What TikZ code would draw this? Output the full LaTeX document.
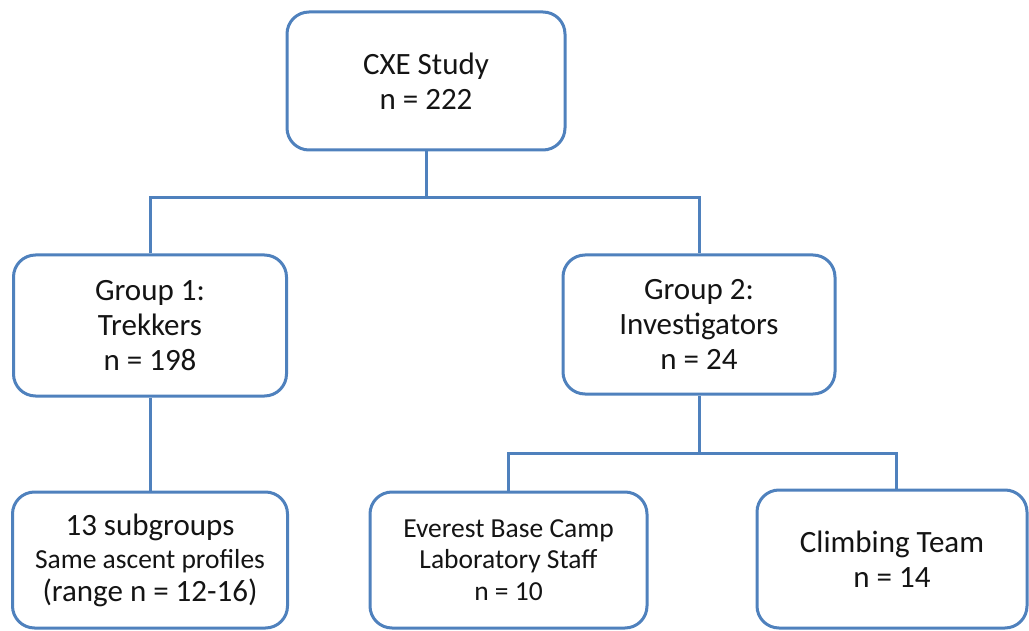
\documentclass[tikz,border=0pt]{standalone}
\usepackage{fontspec}
\setmainfont{Carlito}
\usepackage{tikz}
\usetikzlibrary{positioning, calc}
\definecolor{boxblue}{RGB}{79, 129, 189}
\definecolor{darktext}{RGB}{20, 20, 20}

\tikzset{
    studybox/.style={draw=boxblue, line width=3pt, rounded corners=22pt, fill=white,
                     align=center, text=darktext, inner sep=0pt,
                     font=\fontsize{31}{35}\selectfont},
    link/.style={draw=boxblue, line width=3pt}
}

\begin{document}
\begin{tikzpicture}[x=1pt, y=-1pt]
    \useasboundingbox (0,0) rectangle (1029,631);

    % top level
    \node[studybox, minimum width=278pt, minimum height=138pt] (cxe) at (426,81)
        {CXE Study\\n = 222};

    % the two groups
    \node[studybox, minimum width=273pt, minimum height=141pt] (grpone) at (150,325.5)
        {Group 1:\\Trekkers\\n = 198};
    \node[studybox, minimum width=272pt, minimum height=139pt] (grptwo) at (699,324.5)
        {Group 2:\\Investigators\\n = 24};

    % bottom row
    \node[studybox, minimum width=275pt, minimum height=136pt,
          font=\fontsize{31}{33}\selectfont] (subgrp) at (150,560)
        {13 subgroups\\{\fontsize{27.5}{33}\selectfont Same ascent profiles}\\(range n = 12-16)};
    \node[studybox, minimum width=277pt, minimum height=136pt,
          font=\fontsize{27.5}{31.5}\selectfont] (ebc) at (508.5,560)
        {Everest Base Camp\\Laboratory Staff\\n = 10};
    \node[studybox, minimum width=270pt, minimum height=138pt] (climb) at (892,559)
        {Climbing Team\\n = 14};

    % connectors
    \coordinate (busone) at (426,198);
    \coordinate (bustwo) at (699,453);
    \draw[link] (cxe.south) -- (busone);
    \draw[link] (grpone.north) |- (busone) -| (grptwo.north);
    \draw[link] (grpone.south) -- (subgrp.north);
    \draw[link] (grptwo.south) -- (bustwo);
    \draw[link] (ebc.north) |- (bustwo) -| ([xshift=4pt]climb.north);
\end{tikzpicture}
\end{document}
